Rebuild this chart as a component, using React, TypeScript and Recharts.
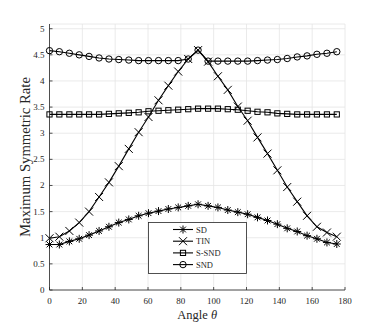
import { LineChart, Line, XAxis, YAxis, CartesianGrid, Legend, Label } from 'recharts'

const angles = [0, 6.0, 12.1, 18.1, 24.1, 30.2, 36.2, 42.2, 48.3, 54.3, 60.3, 66.4, 72.4, 78.4, 84.5, 90.5, 96.6, 102.6, 108.6, 114.7, 120.7, 126.7, 132.8, 138.8, 144.8, 150.9, 156.9, 162.9, 169.0, 175.0]
const sd = [0.87, 0.87, 0.93, 0.98, 1.05, 1.13, 1.21, 1.29, 1.35, 1.42, 1.47, 1.51, 1.55, 1.58, 1.61, 1.64, 1.61, 1.58, 1.53, 1.49, 1.45, 1.39, 1.33, 1.26, 1.18, 1.12, 1.04, 0.98, 0.91, 0.88]
const tin = [0.99, 1.02, 1.13, 1.29, 1.5, 1.78, 2.06, 2.37, 2.7, 3.02, 3.31, 3.63, 3.91, 4.18, 4.42, 4.59, 4.37, 4.09, 3.83, 3.51, 3.24, 2.92, 2.61, 2.29, 1.97, 1.69, 1.42, 1.21, 1.1, 1.02]
const sSnd = [3.36, 3.36, 3.36, 3.36, 3.36, 3.36, 3.37, 3.38, 3.39, 3.4, 3.42, 3.43, 3.44, 3.45, 3.46, 3.47, 3.47, 3.47, 3.46, 3.45, 3.43, 3.41, 3.4, 3.38, 3.37, 3.36, 3.36, 3.36, 3.36, 3.36]
const snd = [4.58, 4.56, 4.53, 4.5, 4.47, 4.44, 4.42, 4.41, 4.4, 4.39, 4.39, 4.39, 4.39, 4.39, 4.42, 4.59, 4.38, 4.38, 4.38, 4.38, 4.38, 4.39, 4.4, 4.41, 4.43, 4.46, 4.48, 4.51, 4.53, 4.56]

const xTicks = [0, 20, 40, 60, 80, 100, 120, 140, 160, 180]
const yTicks = [0, 0.5, 1, 1.5, 2, 2.5, 3, 3.5, 4, 4.5, 5]

const series = [
  { key: 'sd', name: 'SD', marker: 'star' },
  { key: 'tin', name: 'TIN', marker: 'cross' },
  { key: 'sSnd', name: 'S-SND', marker: 'square' },
  { key: 'snd', name: 'SND', marker: 'circle' },
]

const data = angles.map((a, i) => ({ angle: a, sd: sd[i], tin: tin[i], sSnd: sSnd[i], snd: snd[i] }))

const FONT = '"Liberation Serif", "DejaVu Serif", serif'
const INK = '#262626'

function Marker({ kind, cx, cy }: { kind: string; cx: number; cy: number }) {
  const s = { stroke: '#000', strokeWidth: 1, fill: 'none' }
  if (kind === 'star') {
    const r = 4
    const d = r * 0.72
    return (
      <g {...s}>
        <line x1={cx - r} y1={cy} x2={cx + r} y2={cy} />
        <line x1={cx} y1={cy - r} x2={cx} y2={cy + r} />
        <line x1={cx - d} y1={cy - d} x2={cx + d} y2={cy + d} />
        <line x1={cx - d} y1={cy + d} x2={cx + d} y2={cy - d} />
      </g>
    )
  }
  if (kind === 'cross') {
    const r = 4
    return (
      <g {...s}>
        <line x1={cx - r} y1={cy - r} x2={cx + r} y2={cy + r} />
        <line x1={cx - r} y1={cy + r} x2={cx + r} y2={cy - r} />
      </g>
    )
  }
  if (kind === 'square') return <rect x={cx - 2.6} y={cy - 2.6} width={5.2} height={5.2} {...s} />
  return <circle cx={cx} cy={cy} r={3.2} {...s} />
}

const BottomTick = ({ x, y, payload }: any) => (
  <g>
    <line x1={x} y1={y} x2={x} y2={y - 3} stroke={INK} strokeWidth={0.8} />
    <text x={x} y={y + 13.5} textAnchor="middle" fontSize={9} fill={INK} fontFamily={FONT}>{payload.value}</text>
  </g>
)
const LeftTick = ({ x, y, payload }: any) => (
  <g>
    <line x1={x} y1={y} x2={x + 3} y2={y} stroke={INK} strokeWidth={0.8} />
    <text x={x - 5} y={y + 3} textAnchor="end" fontSize={9} fill={INK} fontFamily={FONT}>{payload.value}</text>
  </g>
)
const TopTick = ({ x, y }: any) => <line x1={x} y1={y} x2={x} y2={y + 3} stroke={INK} strokeWidth={0.8} />
const RightTick = ({ x, y }: any) => <line x1={x} y1={y} x2={x - 3} y2={y} stroke={INK} strokeWidth={0.8} />

const XTitle = ({ viewBox }: any) => (
  <text x={viewBox.x + viewBox.width / 2} y={viewBox.y + 29} textAnchor="middle" fontSize={12.5} fill={INK} fontFamily={FONT}>
    Angle <tspan fontStyle="italic">θ</tspan>
  </text>
)
const YTitle = ({ viewBox }: any) => {
  const cy = viewBox.y + viewBox.height / 2
  return (
    <text x={29.5} y={cy} transform={`rotate(-90 29.5 ${cy})`} textAnchor="middle" fontSize={14.7} fill={INK} fontFamily={FONT}>
      Maximum Symmetric Rate
    </text>
  )
}

const LegendBox = () => (
  <svg width={100} height={52} style={{ display: 'block' }}>
    <rect x={0.5} y={0.5} width={98} height={51} fill="#fff" stroke={INK} strokeWidth={0.8} />
    {series.map((s, i) => {
      const cy = 7.5 + i * 11.7
      return (
        <g key={s.key}>
          <line x1={25} y1={cy} x2={45} y2={cy} stroke="#000" strokeWidth={1.1} />
          <Marker kind={s.marker} cx={35} cy={cy} />
          <text x={48} y={cy + 3} fontSize={8.5} fill={INK} fontFamily={FONT}>{s.name}</text>
        </g>
      )
    })}
  </svg>
)

export default function App() {
  return (
    <div style={{ position: 'absolute', left: 0, top: 0, width: 382, height: 327, background: '#fff' }}>
      <LineChart width={382} height={327} data={data} margin={{ top: 24, right: 37, bottom: 0, left: 0 }}>
        <CartesianGrid stroke="#e4e4e4" strokeWidth={0.8} />
        <XAxis dataKey="angle" type="number" domain={[0, 180]} ticks={xTicks} height={37} interval={0}
          axisLine={{ stroke: INK, strokeWidth: 0.8 }} tickLine={false} tickSize={0} tickMargin={0} tick={<BottomTick />}>
          <Label content={<XTitle />} />
        </XAxis>
        <XAxis xAxisId="top" orientation="top" dataKey="angle" type="number" domain={[0, 180]} ticks={xTicks} height={0} interval={0}
          axisLine={{ stroke: INK, strokeWidth: 0.8 }} tickLine={false} tickSize={0} tickMargin={0} tick={<TopTick />} />
        <YAxis type="number" domain={[0, 5.09]} ticks={yTicks} width={49.5} interval={0}
          axisLine={{ stroke: INK, strokeWidth: 0.8 }} tickLine={false} tickSize={0} tickMargin={0} tick={<LeftTick />}>
          <Label content={<YTitle />} />
        </YAxis>
        <YAxis yAxisId="right" orientation="right" type="number" domain={[0, 5.09]} ticks={yTicks} width={0} interval={0}
          axisLine={{ stroke: INK, strokeWidth: 0.8 }} tickLine={false} tickSize={0} tickMargin={0} tick={<RightTick />} />
        {series.map(s => (
          <Line key={s.key} dataKey={s.key} name={s.name} type="linear" stroke="#000" strokeWidth={1.1}
            isAnimationActive={false}
            dot={(p: any) => <Marker key={`${s.key}-${p.index}`} kind={s.marker} cx={p.cx} cy={p.cy} />}
            activeDot={false} />
        ))}
        <Legend layout="vertical" align="center" verticalAlign="middle" content={<LegendBox />}
          wrapperStyle={{ left: 148, top: 222, width: 100, height: 52 }} />
      </LineChart>
    </div>
  )
}
